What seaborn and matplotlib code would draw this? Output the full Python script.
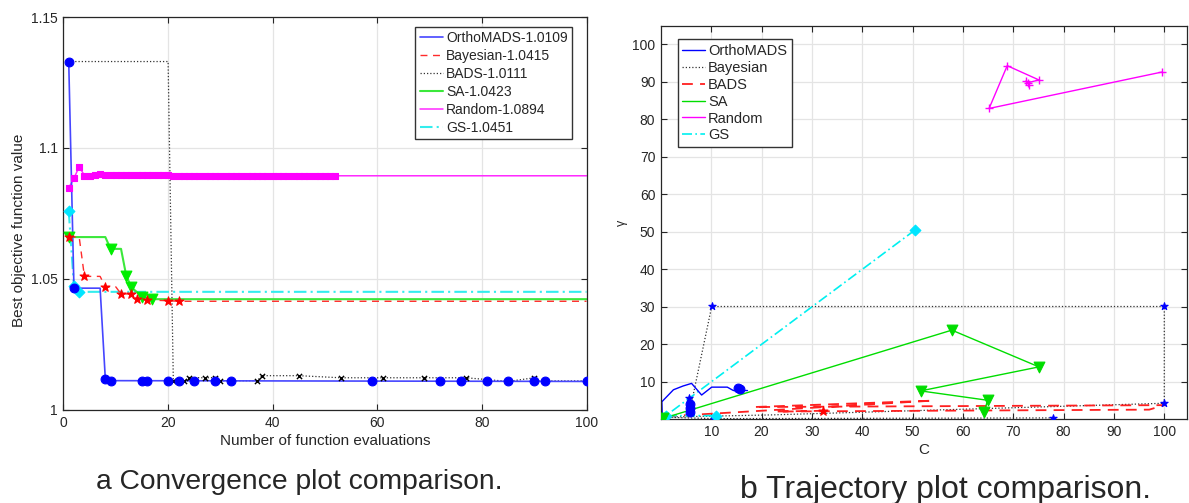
import matplotlib
matplotlib.use('Agg')
from matplotlib import pyplot as plt
from matplotlib.lines import Line2D
import seaborn as sns


# ---- (a) convergence data: line vertices and marker positions ----
ortho_x = [1, 2, 7, 8, 9, 100]
ortho_y = [1.133, 1.0465, 1.0465, 1.0118, 1.0112, 1.0109]
ortho_mx = [1, 2, 8, 9, 15, 16, 20, 22, 25, 29, 32, 59, 72, 76, 81, 85, 90, 92, 100]
ortho_my = [1.133, 1.0465, 1.0118, 1.0112, 1.0112, 1.0111, 1.0110, 1.0110, 1.0109, 1.0109,
            1.0109, 1.0109, 1.0109, 1.0109, 1.0109, 1.0109, 1.0109, 1.0109, 1.0109]

bayes_x = [1, 3, 4, 7, 8, 10, 11, 13, 14, 16, 20, 22, 100]
bayes_y = [1.066, 1.066, 1.051, 1.051, 1.047, 1.047, 1.0443, 1.0443, 1.0423, 1.042, 1.0417, 1.0415, 1.0415]
bayes_mx = [1, 4, 8, 11, 13, 14, 16, 20, 22]
bayes_my = [1.066, 1.051, 1.047, 1.0443, 1.0443, 1.0423, 1.042, 1.0417, 1.0415]

bads_x = [1, 20, 21, 23, 24, 27, 29, 30, 37, 38, 45, 53, 61, 69, 77, 85, 90, 91, 100]
bads_y = [1.133, 1.133, 1.0109, 1.0109, 1.0124, 1.0123, 1.0124, 1.0112, 1.0112, 1.0131, 1.0131,
          1.0123, 1.0123, 1.0123, 1.0123, 1.0109, 1.0123, 1.0111, 1.0111]
bads_mx = [21, 23, 24, 27, 29, 30, 37, 38, 45, 53, 61, 69, 77, 85, 90]
bads_my = [1.0109, 1.0109, 1.0124, 1.0123, 1.0124, 1.0112, 1.0112, 1.0131, 1.0131,
           1.0123, 1.0123, 1.0123, 1.0123, 1.0109, 1.0123]

sa_x = [1, 8, 9, 11, 12, 13, 15, 17, 100]
sa_y = [1.066, 1.066, 1.0615, 1.0615, 1.0512, 1.0468, 1.0433, 1.0423, 1.0423]
sa_mx = [1, 9, 12, 13, 15, 17]
sa_my = [1.066, 1.0615, 1.0512, 1.0468, 1.0433, 1.0423]

rnd_mx = list(range(1, 53))
rnd_my = [1.0848, 1.0884, 1.0929, 1.0895, 1.0895, 1.0897, 1.0899, 1.0898, 1.0897, 1.0897,
          1.0896, 1.0896, 1.0896, 1.0896, 1.0896, 1.0896, 1.0896, 1.0896, 1.0896, 1.0896,
          1.0895, 1.0895, 1.0895, 1.0895, 1.0895, 1.0895, 1.0895, 1.0895, 1.0895, 1.0895,
          1.0895, 1.0895, 1.0895, 1.0895, 1.0895, 1.0895, 1.0895, 1.0895, 1.0895, 1.0895,
          1.0894, 1.0894, 1.0894, 1.0894, 1.0894, 1.0894, 1.0894, 1.0894, 1.0894, 1.0894,
          1.0894, 1.0894]
rnd_x = rnd_mx + [100]
rnd_y = rnd_my + [1.0894]

gs_x = [1, 2, 3, 100]
gs_y = [1.076, 1.0473, 1.0451, 1.0451]
gs_mx = [1, 2, 3]
gs_my = [1.076, 1.0473, 1.0451]

conv_labels = ['OrthoMADS-1.0109', 'Bayesian-1.0415', 'BADS-1.0111',
               'SA-1.0423', 'Random-1.0894', 'GS-1.0451']

# ---- (b) trajectory data in (C, gamma) ----
t_ortho_x = [0.3, 0.2, 2.5, 4.4, 6.1, 8.1, 10.1, 13.2, 14.4, 17.2]
t_ortho_y = [0.3, 4.7, 7.9, 8.9, 9.6, 6.5, 8.6, 8.6, 7.7, 7.7]
t_ortho_mx = [15.4, 15.7, 5.8, 5.8, 5.7]
t_ortho_my = [8.3, 8.0, 4.0, 3.0, 1.9]

t_bayes_x = [5.7, 10.1, 100, 100, 22, 0.5, 10.5, 78]
t_bayes_y = [1.9, 30.1, 30.1, 4.3, 1.2, 0.6, 0.2, 0.4]
t_bayes_mx = [5.6, 10.1, 100, 100, 77.8, 10.5]
t_bayes_my = [5.8, 30.1, 30.1, 4.3, 0.4, 0.2]

t_bads_x = [1.0, 54.0, 18.5, 100, 97.0, 23.0, 32.3]
t_bads_y = [0.8, 5.0, 3.3, 3.8, 2.6, 2.1, 2.3]
t_bads_mx = [32.3]
t_bads_my = [2.3]

t_sa_x = [0.5, 57.8, 75.1, 51.6, 64.9, 64.2]
t_sa_y = [0.3, 23.8, 14.0, 7.6, 5.1, 1.9]

t_rnd_x = [99.5, 65.2, 68.8, 75.1, 73.0, 72.5, 73.2]
t_rnd_y = [92.6, 82.9, 94.3, 90.5, 89.8, 90.2, 89.2]

t_gs_x = [50.5, 1.0, 11.0]
t_gs_y = [50.5, 1.0, 1.0]

traj_labels = ['OrthoMADS', 'Bayesian', 'BADS', 'SA', 'Random', 'GS']


sns.set_theme(style='ticks')
plt.rcParams['font.family'] = ['Liberation Sans', 'DejaVu Sans']
plt.rcParams['axes.edgecolor'] = '#262626'
plt.rcParams['xtick.color'] = '#262626'
plt.rcParams['ytick.color'] = '#262626'

fig = plt.figure(figsize=(11.89, 5.03), dpi=100)
ax1 = fig.add_axes([0.0534, 0.1849, 0.4399, 0.7813])
ax2 = fig.add_axes([0.5558, 0.1662, 0.4429, 0.7815])


def line(ax, x, y, color, ls, lw):
    sns.lineplot(x=x, y=y, sort=False, estimator=None, color=color,
                 linestyle=ls, linewidth=lw, ax=ax)


def dots(ax, x, y, color, marker, s, lw=0.8):
    sns.scatterplot(x=x, y=y, color=color, marker=marker, s=s, linewidth=lw,
                    edgecolor=color, ax=ax, zorder=5)


# Convergence plot
conv_colors = ['#4646ff', '#ff2a2a', '#333333', '#3be83b', '#ff2aff', '#33eded']
conv_styles = ['-', (0, (5, 4)), (0, (1, 1.6)), '-', '-', (0, (6, 2, 1, 2))]
conv_widths = [1.2, 1.0, 0.9, 1.5, 1.1, 1.5]

line(ax1, bads_x, bads_y, conv_colors[2], conv_styles[2], conv_widths[2])
line(ax1, rnd_x, rnd_y, conv_colors[4], conv_styles[4], conv_widths[4])
line(ax1, gs_x, gs_y, conv_colors[5], conv_styles[5], conv_widths[5])
line(ax1, sa_x, sa_y, conv_colors[3], conv_styles[3], conv_widths[3])
line(ax1, bayes_x, bayes_y, conv_colors[1], conv_styles[1], conv_widths[1])
line(ax1, ortho_x, ortho_y, conv_colors[0], conv_styles[0], conv_widths[0])

dots(ax1, rnd_mx, rnd_my, '#ff00ff', 's', 24)
dots(ax1, gs_mx, gs_my, '#00e5ff', 'D', 30)
dots(ax1, sa_mx, sa_my, '#00ee00', 'v', 60)
dots(ax1, bayes_mx, bayes_my, '#ff0000', '*', 45)
dots(ax1, bads_mx, bads_my, 'black', 'x', 14, lw=1.0)
dots(ax1, ortho_mx, ortho_my, '#0000ff', 'o', 40)

ax1.set_xlim(0, 100)
ax1.set_ylim(1, 1.15)
ax1.set_xticks([0, 20, 40, 60, 80, 100])
ax1.set_yticks([1, 1.05, 1.1, 1.15])
ax1.set_yticklabels(['1', '1.05', '1.1', '1.15'])
ax1.set_xlabel('Number of function evaluations', fontsize=11, labelpad=3)
ax1.set_ylabel('Best objective function value', fontsize=11)
ax1.yaxis.set_label_coords(-0.072, 0.458)

h1 = [Line2D([], [], color=c, linestyle=s, linewidth=w)
      for c, s, w in zip(conv_colors, conv_styles, conv_widths)]
ax1.legend(h1, conv_labels, loc='upper right', fontsize=10, handlelength=1.7,
           handletextpad=0.2, labelspacing=0.28, borderpad=0.3, fancybox=False,
           framealpha=1, edgecolor='#333333', bbox_to_anchor=(0.985, 0.992))

# Trajectory plot
traj_colors = ['#0000ff', '#333333', '#ff2020', '#00dd00', '#ff00ff', '#00f0f0']
traj_styles = ['-', (0, (1, 1.6)), (0, (6, 4)), '-', '-', (0, (6, 2, 1, 2))]
traj_widths = [1.0, 0.9, 1.3, 1.0, 1.0, 1.2]

line(ax2, t_bayes_x, t_bayes_y, traj_colors[1], traj_styles[1], traj_widths[1])
line(ax2, t_bads_x, t_bads_y, traj_colors[2], traj_styles[2], traj_widths[2])
line(ax2, t_gs_x, t_gs_y, traj_colors[5], traj_styles[5], traj_widths[5])
line(ax2, t_sa_x, t_sa_y, traj_colors[3], traj_styles[3], traj_widths[3])
line(ax2, t_rnd_x, t_rnd_y, traj_colors[4], traj_styles[4], traj_widths[4])
line(ax2, t_ortho_x, t_ortho_y, traj_colors[0], traj_styles[0], traj_widths[0])

dots(ax2, t_bayes_mx, t_bayes_my, '#0000ff', '*', 30)
dots(ax2, t_ortho_mx, t_ortho_my, '#0000ff', 'o', 40)
dots(ax2, t_bads_mx, t_bads_my, '#ff0000', '*', 45)
dots(ax2, t_gs_x, t_gs_y, '#00e5ff', 'D', 30)
dots(ax2, t_sa_x, t_sa_y, '#00dd00', 'v', 60)
dots(ax2, t_rnd_x, t_rnd_y, '#ff00ff', '+', 40, lw=1.0)

ax2.set_xlim(0, 104.6)
ax2.set_ylim(0, 104.8)
ax2.set_xticks(list(range(10, 101, 10)))
ax2.set_yticks(list(range(10, 101, 10)))
ax2.set_xlabel('C', fontsize=11, labelpad=3)
ax2.set_ylabel('γ', fontsize=9, labelpad=3)

h2 = [Line2D([], [], color=c, linestyle=s, linewidth=w)
      for c, s, w in zip(traj_colors, traj_styles, traj_widths)]
ax2.legend(h2, traj_labels, loc='upper left', fontsize=10.5, handlelength=1.6,
           handletextpad=0.2, labelspacing=0.2, borderpad=0.3, fancybox=False,
           framealpha=1, edgecolor='#333333', bbox_to_anchor=(0.018, 0.985))

for ax in (ax1, ax2):
    ax.grid(True, color='#e4e4e4', linewidth=0.9)
    ax.set_axisbelow(True)
    ax.tick_params(direction='in', top=True, right=True, length=4, width=0.8,
                   labelsize=10, pad=4)
    for sp in ax.spines.values():
        sp.set_visible(True)
        sp.set_linewidth(0.9)

# Sub-captions
fig.text(0.252, 0.042, 'a Convergence plot comparison.', ha='center', va='center', fontsize=20.3)
fig.text(0.795, 0.026, 'b Trajectory plot comparison.', ha='center', va='center', fontsize=23)

fig.savefig('out.png', dpi=100)
